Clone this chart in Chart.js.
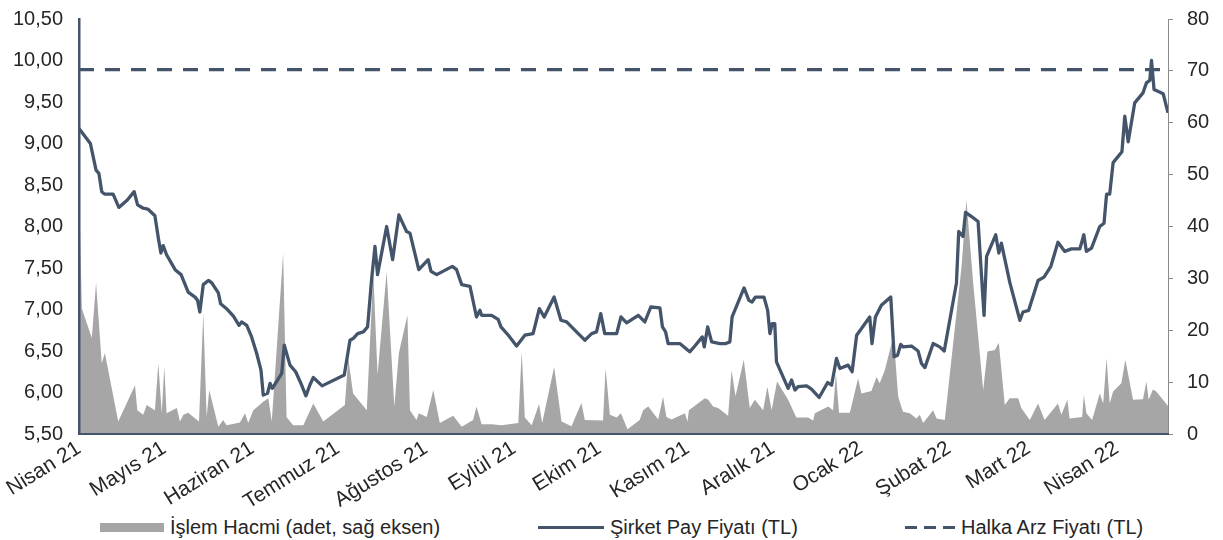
<!DOCTYPE html>
<html lang="tr">
<head>
<meta charset="utf-8">
<title>Şirket Pay Fiyatı ve İşlem Hacmi</title>
<script src="https://cdn.jsdelivr.net/npm/chart.js@4.4.1/dist/chart.umd.min.js"></script>
<style>
  html, body { margin: 0; padding: 0; background: #fff; }
  #wrap { position: relative; width: 1223px; height: 540px; font-family: 'Liberation Sans', Arial, sans-serif; color: #262626; }
  #chart-box { position: absolute; left: 0; top: 0; width: 1223px; height: 508px; }
  #legend { position: absolute; left: 0; top: 514px; width: 1223px; height: 26px; font-size: 20px; }
  .lg-item { position: absolute; top: 0; height: 26px; display: flex; align-items: center; white-space: nowrap; }
  .lg-swatch { margin-right: 6px; }
</style>
</head>
<body>
<div id="wrap">
  <div id="chart-box"><canvas id="chart"></canvas></div>
  <div id="legend"></div>
</div>
<script>
// x = calendar days since the first trading day (mid April 2021)
const monthLabels = ['Nisan 21', 'Mayıs 21', 'Haziran 21', 'Temmuz 21', 'Ağustos 21', 'Eylül 21',
  'Ekim 21', 'Kasım 21', 'Aralık 21', 'Ocak 22', 'Şubat 22', 'Mart 22', 'Nisan 22'];
const monthTickDays = [0, 30, 61, 91, 122, 153, 183, 214, 244, 275, 306, 334, 365];
const lastDay = 383;

const halkaArzFiyati = 9.89;

const priceDays = [0, 4, 5, 6, 7, 8, 9, 12, 14, 17,
  19.4, 20.6, 22.6, 24.2, 26.7, 27.9, 28.8, 29.6, 30.8, 33.8,
  35.9, 38.4, 40.8, 41.7, 42.5, 43.7, 45.5, 46.7, 49, 49.8,
  51.9, 54.3, 56.3, 57.2, 59, 60.7, 62.5, 64, 64.8, 66.3,
  67.2, 68, 71.3, 72.2, 74.2, 76.2, 78.3, 79.8, 81.2, 82.4,
  85.5, 93.3, 95.3, 96.4, 98, 100, 101.5, 102.9, 104.1, 105,
  108.2, 110.3, 112.5, 115.2, 116.4, 119.5, 122.8, 123.8, 125.8, 131.3,
  132.8, 134.6, 137.5, 139.8, 141, 141.6, 145.1, 147.4, 148.4, 151,
  153.9, 156.8, 159.7, 161.9, 163.6, 167.1, 169.5, 171.5, 175.6, 177.9,
  180.3, 182, 183.5, 184.9, 189.1, 190.6, 192.6, 196.7, 199, 201.1,
  204.3, 205.2, 206.3, 207.2, 211.3, 214.8, 216.6, 219.2, 219.9, 221.1,
  222.5, 225.4, 227.5, 228.9, 229.7, 233.9, 235.6, 236.7, 237.9, 240.9,
  242.2, 243, 243.8, 244.7, 245.3, 249.4, 250.6, 251.8, 252.9, 255.9,
  257.6, 260.3, 263.3, 264.7, 266.4, 267.6, 270.5, 271.9, 273.5, 278.1,
  278.9, 280.1, 282.2, 285.5, 286.7, 287.9, 289, 289.8, 292.8, 295.1,
  296.3, 297.5, 300.4, 302.7, 304.3, 308.6, 309.4, 310.9, 311.8, 313.9,
  316.2, 318.3, 319.2, 322.4, 323.5, 324.4, 327.4, 330.9, 332, 334,
  337.3, 339.4, 341.8, 344.3, 346.7, 349, 352, 353.4, 354.3, 356.1,
  359, 360.5, 361.4, 362.5, 363.7, 366.8, 367.8, 369, 371.3, 374.2,
  375.4, 376.6, 377.2, 378.1, 381.3, 383];

const priceValues = [9.18, 9.00, 8.84, 8.68, 8.64, 8.42, 8.39, 8.39, 8.23, 8.32,
  8.42, 8.26, 8.22, 8.21, 8.13, 7.86, 7.68, 7.77, 7.66, 7.48,
  7.42, 7.21, 7.15, 7.11, 6.97, 7.30, 7.35, 7.32, 7.20, 7.07,
  7.01, 6.92, 6.81, 6.85, 6.81, 6.67, 6.47, 6.27, 5.97, 5.99,
  6.11, 6.05, 6.23, 6.57, 6.33, 6.25, 6.09, 5.96, 6.09, 6.18,
  6.08, 6.21, 6.63, 6.65, 6.71, 6.73, 6.79, 7.36, 7.76, 7.42,
  8.00, 7.60, 8.14, 7.94, 7.92, 7.48, 7.60, 7.46, 7.42, 7.52,
  7.48, 7.30, 7.28, 6.91, 6.99, 6.93, 6.93, 6.88, 6.79, 6.69,
  6.56, 6.69, 6.71, 7.01, 6.91, 7.15, 6.87, 6.85, 6.71, 6.63,
  6.71, 6.73, 6.95, 6.71, 6.71, 6.91, 6.84, 6.93, 6.85, 7.03,
  7.02, 6.79, 6.73, 6.59, 6.59, 6.49, 6.56, 6.67, 6.55, 6.79,
  6.61, 6.59, 6.59, 6.61, 6.91, 7.26, 7.11, 7.09, 7.15, 7.15,
  6.99, 6.71, 6.83, 6.83, 6.37, 6.05, 6.15, 6.03, 6.07, 6.08,
  6.04, 5.94, 6.12, 6.09, 6.41, 6.29, 6.33, 6.25, 6.69, 6.91,
  6.59, 6.91, 7.05, 7.15, 6.43, 6.45, 6.58, 6.55, 6.56, 6.50,
  6.35, 6.30, 6.59, 6.55, 6.50, 7.32, 7.94, 7.88, 8.17, 8.12,
  8.06, 6.93, 7.64, 7.90, 7.68, 7.80, 7.32, 6.87, 6.97, 6.99,
  7.35, 7.39, 7.52, 7.81, 7.70, 7.73, 7.73, 7.90, 7.70, 7.74,
  8.00, 8.04, 8.39, 8.39, 8.77, 8.90, 9.33, 9.02, 9.49, 9.61,
  9.73, 9.76, 10.00, 9.65, 9.60, 9.37];

const volumeDays = [0, 1, 4.5, 6, 8, 9.1, 13.8, 19.7, 20.5, 22.6,
  23.8, 26.7, 27.9, 29.1, 30, 30.8, 34.4, 35.5, 36.7, 38.4,
  42.2, 43.7, 44.9, 45.8, 49, 50.7, 51.9, 56.6, 58.4, 59.5,
  61.3, 64.8, 66.6, 67.8, 71.8, 73, 75.3, 78.9, 82.4, 85.9,
  93.5, 94.7, 96.4, 101.2, 103.5, 105, 108.2, 110.9, 112.5, 115.5,
  116.4, 118.7, 119.5, 122.3, 124.6, 126.9, 131.6, 134.6, 138.6, 139.8,
  141.6, 145.1, 148.6, 154.5, 155.7, 156.8, 159.2, 161.8, 162.9, 167.1,
  169.7, 173.2, 176.7, 177.9, 184.3, 185.2, 186.7, 189.1, 190.6, 192.9,
  197.2, 198.4, 200.2, 203.7, 205.4, 206.6, 208.4, 213.1, 214, 214.5,
  220.1, 221.3, 223, 224.8, 228.3, 229.5, 230.9, 233.8, 235.9, 237.7,
  240.6, 242.1, 243.6, 245.5, 249.4, 252.3, 256.4, 258.2, 258.8, 263.5,
  265.2, 266.2, 267.3, 271.1, 274, 275.2, 278.7, 280.5, 281.6, 283.4,
  286.5, 288.1, 289.8, 292.2, 294.5, 295.7, 296.9, 300.4, 301.6, 304.5,
  310.4, 312.1, 314.5, 318, 319.5, 322.1, 323.5, 325.6, 327.3, 330.3,
  331.4, 334.4, 337.3, 339.6, 344.3, 345.5, 347.6, 348.4, 352.8, 353.4,
  354.3, 356.3, 359, 360.2, 361.4, 362.5, 363.7, 366.6, 368, 370.7,
  374.2, 375.4, 376.2, 377.7, 378.9, 383];

const volumeValues = [48, 24.2, 18.5, 29.1, 13.6, 15.6, 2.4, 9.4, 4.6, 3.7,
  5.6, 4.6, 13.6, 4.0, 13.0, 4.0, 5.0, 2.4, 3.7, 4.1,
  2.4, 23.3, 3.3, 8.5, 1.4, 2.7, 1.7, 2.2, 4.0, 2.1,
  4.6, 6.2, 6.9, 2.4, 34.8, 3.3, 1.7, 1.7, 5.9, 2.4,
  5.6, 14.6, 7.8, 4.6, 31.0, 11.4, 31.3, 5.3, 15.6, 22.9,
  4.6, 2.7, 4.0, 3.3, 8.5, 2.1, 3.5, 1.4, 2.7, 5.3,
  1.9, 1.9, 1.7, 2.1, 15.9, 3.2, 1.7, 5.8, 2.1, 12.9,
  2.4, 1.5, 6.0, 2.7, 2.6, 12.7, 3.7, 3.2, 4.0, 0.9,
  2.7, 4.6, 5.3, 2.8, 7.2, 3.3, 2.8, 4.0, 2.4, 4.6,
  6.9, 6.6, 5.3, 5.0, 3.5, 12.3, 7.3, 14.3, 5.0, 6.6,
  4.6, 9.1, 4.6, 10.1, 6.6, 3.2, 3.2, 2.6, 4.0, 5.3,
  4.6, 11.7, 4.1, 4.1, 10.7, 7.8, 8.3, 11.0, 9.8, 12.3,
  19.0, 7.2, 4.3, 4.0, 3.0, 3.7, 2.1, 4.6, 3.0, 2.7,
  32.3, 45.1, 29.0, 8.5, 15.9, 16.2, 17.6, 5.6, 6.9, 6.9,
  5.0, 2.7, 5.9, 2.7, 5.9, 3.7, 6.6, 3.0, 3.3, 7.5,
  4.0, 2.7, 7.8, 5.9, 14.6, 5.9, 8.2, 9.8, 14.3, 6.6,
  6.7, 10.1, 6.6, 8.6, 8.2, 5.4];

const slate = '#44546A';
const volumeGray = '#A6A6A6';
const textColor = '#262626';

Chart.defaults.font.family = "'Liberation Sans', Arial, sans-serif";
Chart.defaults.font.size = 20;
Chart.defaults.color = textColor;

const priceData = priceDays.map((d, i) => ({ x: d, y: priceValues[i] }));
const volumeData = volumeDays.map((d, i) => ({ x: d, y: volumeValues[i] }));
const ipoData = [{ x: 0, y: halkaArzFiyati }, { x: lastDay, y: halkaArzFiyati }];

// vertical scales add ticks.padding to their top/bottom overhang; keep only half a label
function fitSide(width) {
  return scale => {
    scale.width = width;
    scale.paddingTop = 12;
    scale.paddingBottom = 12;
  };
}

const chart = new Chart(document.getElementById('chart'), {
  type: 'line',
  data: {
    datasets: [
      {
        label: 'İşlem Hacmi (adet, sağ eksen)',
        data: volumeData,
        yAxisID: 'y1',
        backgroundColor: volumeGray,
        borderWidth: 0,
        fill: 'origin',
        pointRadius: 0,
        order: 3
      },
      {
        label: 'Şirket Pay Fiyatı (TL)',
        data: priceData,
        yAxisID: 'y',
        borderColor: slate,
        borderWidth: 3.3,
        borderJoinStyle: 'round',
        pointRadius: 0,
        fill: false,
        order: 1
      },
      {
        label: 'Halka Arz Fiyatı (TL)',
        data: ipoData,
        yAxisID: 'y',
        borderColor: slate,
        borderWidth: 3.3,
        borderDash: [15, 11],
        pointRadius: 0,
        fill: false,
        order: 2
      }
    ]
  },
  options: {
    responsive: true,
    maintainAspectRatio: false,
    animation: false,
    layout: { padding: { top: 19, right: 0, bottom: 0, left: 0 } },
    plugins: {
      legend: { display: false },
      tooltip: { enabled: false }
    },
    scales: {
      x: {
        type: 'linear',
        min: 0,
        max: lastDay,
        grid: { display: false, drawTicks: false },
        border: { display: true, color: slate, width: 2, z: 1 },
        afterBuildTicks: scale => { scale.ticks = monthTickDays.map(v => ({ value: v })); },
        afterFit: scale => { scale.height = 74; },
        ticks: {
          autoSkip: false,
          minRotation: 32,
          maxRotation: 32,
          padding: 2,
          font: { size: 21 },
          callback: (value, index) => monthLabels[index]
        }
      },
      y: {
        position: 'left',
        min: 5.5,
        max: 10.5,
        grid: { display: false, drawTicks: false },
        border: { display: true, color: slate, width: 2.5, z: 1 },
        afterFit: fitSide(79),
        ticks: {
          stepSize: 0.5,
          padding: 16,
          callback: v => v.toFixed(2).replace('.', ',')
        }
      },
      y1: {
        position: 'right',
        min: 0,
        max: 80,
        grid: { display: true, drawOnChartArea: false, drawTicks: true, tickLength: 5, color: '#8C8C8C' },
        border: { display: true, color: '#8C8C8C', width: 1 },
        afterFit: fitSide(55),
        ticks: { stepSize: 10, padding: 14 }
      }
    }
  }
});

// legend as plain html under the canvas
const legendEl = document.getElementById('legend');
const swatches = [
  { left: 100, width: 64, css: 'height:9px;background:' + volumeGray },
  { left: 538, width: 66, css: 'height:3px;background:' + slate },
  { left: 905, width: 50, css: 'height:3px;background:repeating-linear-gradient(to right,' + slate + ' 0 12px,transparent 12px 19px)' }
];
chart.data.datasets.forEach((ds, i) => {
  const sw = swatches[i];
  const item = document.createElement('div');
  item.className = 'lg-item';
  item.style.left = sw.left + 'px';
  item.innerHTML = `<span class="lg-swatch" style="display:inline-block;width:${sw.width}px;${sw.css}"></span><span>${ds.label}</span>`;
  legendEl.appendChild(item);
});
</script>
</body>
</html>
